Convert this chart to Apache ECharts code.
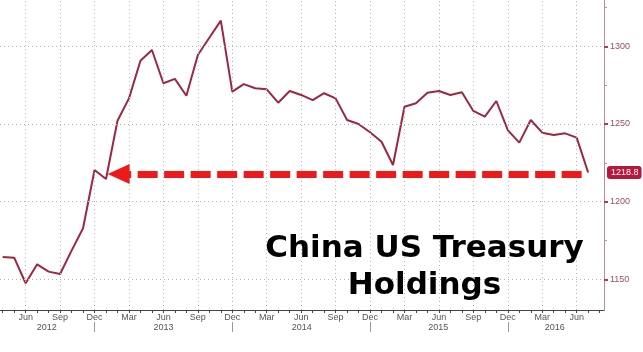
<!DOCTYPE html>
<html>
<head>
<meta charset="utf-8">
<script src="https://cdn.jsdelivr.net/npm/echarts@6/dist/echarts.min.js"></script>
<style>
  html, body { margin: 0; padding: 0; background: #fff; }
  #chart { width: 643px; height: 352px; }
</style>
</head>
<body>
<div id="chart"></div>
<script>
// monthly, Apr 2012 .. Jul 2016 (index 0 = Apr 2012)
const categories = [
  'Apr 2012', 'May 2012', 'Jun 2012', 'Jul 2012', 'Aug 2012', 'Sep 2012', 'Oct 2012', 'Nov 2012', 'Dec 2012',
  'Jan 2013', 'Feb 2013', 'Mar 2013', 'Apr 2013', 'May 2013', 'Jun 2013', 'Jul 2013', 'Aug 2013', 'Sep 2013', 'Oct 2013', 'Nov 2013', 'Dec 2013',
  'Jan 2014', 'Feb 2014', 'Mar 2014', 'Apr 2014', 'May 2014', 'Jun 2014', 'Jul 2014', 'Aug 2014', 'Sep 2014', 'Oct 2014', 'Nov 2014', 'Dec 2014',
  'Jan 2015', 'Feb 2015', 'Mar 2015', 'Apr 2015', 'May 2015', 'Jun 2015', 'Jul 2015', 'Aug 2015', 'Sep 2015', 'Oct 2015', 'Nov 2015', 'Dec 2015',
  'Jan 2016', 'Feb 2016', 'Mar 2016', 'Apr 2016', 'May 2016', 'Jun 2016', 'Jul 2016'
]
const holdings = [
  1164.4, 1164.0, 1147.5, 1159.7, 1155.0, 1153.5, 1168.5, 1182.9, 1220.4,
  1214.6, 1252.1, 1266.5, 1290.7, 1297.6, 1276.2, 1279.0, 1268.2, 1294.4, 1305.5, 1316.5, 1270.8,
  1275.7, 1273.0, 1272.3, 1263.7, 1271.2, 1268.7, 1265.4, 1269.8, 1266.5, 1252.6, 1250.0, 1244.7,
  1238.6, 1223.6, 1261.1, 1263.3, 1270.1, 1271.2, 1268.7, 1270.4, 1258.4, 1254.7, 1264.8, 1246.1,
  1238.0, 1252.6, 1244.4, 1242.9, 1244.0, 1241.2, 1218.8
]
const quarterLabels = ['Jun', 'Sep', 'Dec', 'Mar']
const yearLabels = ['2012', '2013', '2014', '2015', '2016']
const yearLabelAt = [3.83, 14, 26.05, 37.94, 48.1]
const yearBreaks = [8, 20, 32, 44]
const yTicks = [1150, 1200, 1250, 1300]
const yMinorTicks = [1175, 1225, 1275, 1325]
const lastValue = 1218.8
const arrowLevel = 1217.8
const arrowFrom = 10.1

const xMin = -0.235
const xMax = 52.38
const yMin = 1130.3
const yMax = 1329.8
const monthTicks = categories.map((_, i) => i).concat([52])
const quarterTicks = categories.map((_, i) => i).filter(i => (i + 1) % 3 === 0)

const chart = echarts.init(document.getElementById('chart'))

const baseX = {
  type: 'value',
  min: xMin,
  max: xMax,
  position: 'bottom',
  splitLine: { show: false }
}
const gridLine = { color: '#b4b4b4', type: [1, 3], width: 1 }

chart.setOption({
  animation: false,
  grid: { left: 0, right: 39, top: 0, bottom: 42, containLabel: false },
  graphic: [
    {
      type: 'text',
      x: 424.5,
      y: 230,
      z: 100,
      style: {
        text: 'China US Treasury\nHoldings',
        align: 'center',
        verticalAlign: 'top',
        font: 'bold 31px "DejaVu Sans"',
        lineHeight: 37,
        fill: '#000'
      }
    }
  ],
  xAxis: [
    {
      ...baseX,
      axisLine: { show: true, onZero: false, lineStyle: { color: '#444', width: 1 } },
      axisTick: { show: true, customValues: monthTicks, length: 3, lineStyle: { color: '#444' } },
      axisLabel: {
        customValues: quarterTicks,
        margin: 3,
        fontFamily: 'Liberation Sans',
        fontSize: 9,
        color: '#555',
        formatter: v => quarterLabels[((Math.round(v) - 2) / 3) % 4]
      }
    },
    {
      ...baseX,
      offset: 12,
      axisLine: { show: false, onZero: false },
      axisTick: { show: true, customValues: yearBreaks, length: 10, lineStyle: { color: '#999' } },
      axisLabel: {
        customValues: yearLabelAt,
        margin: 1,
        fontFamily: 'Liberation Sans',
        fontSize: 9,
        color: '#555',
        formatter: v => yearLabels[yearLabelAt.indexOf(v)]
      }
    }
  ],
  yAxis: [
    {
      type: 'value',
      position: 'right',
      min: yMin,
      max: yMax,
      axisLine: { show: true, onZero: false, lineStyle: { color: '#c48a98', width: 1 } },
      axisTick: { show: true, customValues: yTicks, length: 4, lineStyle: { color: '#a3405c', width: 2 } },
      axisLabel: {
        customValues: yTicks,
        margin: 6,
        fontFamily: 'Liberation Sans',
        fontSize: 9,
        color: '#9c4a64',
        formatter: v => String(v)
      },
      splitLine: { show: false },
      axisPointer: {
        show: true,
        type: 'line',
        value: lastValue,
        status: 'show',
        triggerTooltip: false,
        lineStyle: { opacity: 0 },
        label: {
          show: true,
          margin: 3,
          padding: [2, 3, 2, 4],
          fontFamily: 'Liberation Sans',
          fontSize: 9,
          color: '#fff',
          backgroundColor: '#b8173c',
          formatter: p => Number(p.value).toFixed(1)
        }
      }
    },
    {
      type: 'value',
      position: 'right',
      min: yMin,
      max: yMax,
      axisLine: { show: false, onZero: false },
      axisTick: { show: true, customValues: yMinorTicks, length: 3, lineStyle: { color: '#c48a98' } },
      axisLabel: { show: false },
      splitLine: { show: false }
    }
  ],
  series: [
    {
      // dotted grid
      type: 'line',
      data: [],
      silent: true,
      z: 1,
      markLine: {
        silent: true,
        symbol: 'none',
        label: { show: false },
        lineStyle: gridLine,
        emphasis: { disabled: true },
        data: quarterTicks.map(v => ({ xAxis: v })).concat(yTicks.map(v => ({ yAxis: v })))
      }
    },
    {
      type: 'line',
      z: 3,
      data: holdings.map((v, i) => [i, v]),
      symbol: 'none',
      lineStyle: { color: '#9b2840', width: 2 },
      markLine: {
        silent: true,
        symbol: ['triangle', 'none'],
        symbolSize: [20, 22],
        label: { show: false },
        lineStyle: { color: '#ee1a1a', width: 7, type: [20, 6.5], dashOffset: 7.5, opacity: 1 },
        emphasis: { disabled: true },
        data: [[
          { coord: [arrowFrom, arrowLevel] },
          { coord: [holdings.length - 1, arrowLevel] }
        ]]
      }
    }
  ]
})

window.addEventListener('resize', () => chart.resize())
</script>
</body>
</html>
